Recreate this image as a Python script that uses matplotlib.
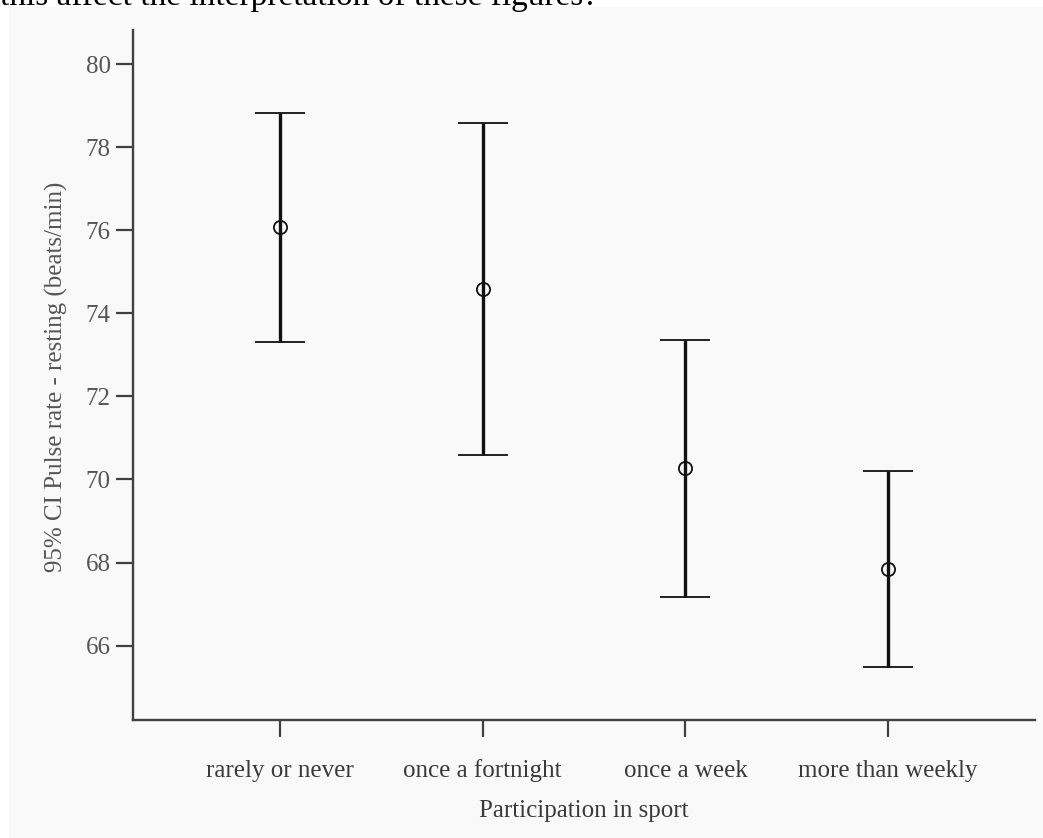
import matplotlib
matplotlib.use("Agg")
import matplotlib.pyplot as plt
from matplotlib.patches import Rectangle

categories = ["rarely or never", "once a fortnight", "once a week", "more than weekly"]
means = [76.07, 74.58, 70.28, 67.85]
upper = [78.81, 78.57, 73.36, 70.20]
lower = [73.32, 70.59, 67.17, 65.49]
yticks = [66, 68, 70, 72, 74, 76, 78, 80]

W, H = 1043, 838
fig = plt.figure(figsize=(W / 100, H / 100), dpi=100)
fig.patch.set_facecolor("#f9f9f9")

# white page strips of the screenshot (top and left)
fig.patches.append(Rectangle((-0.01, 1 - 7 / H), 1.02, 0.02, transform=fig.transFigure,
                             facecolor="white", edgecolor="none", zorder=-10))
fig.patches.append(Rectangle((-0.01, -0.01), 0.01 + 9 / W, 1.02, transform=fig.transFigure,
                             facecolor="white", edgecolor="none", zorder=-10))

serif = ["Liberation Serif", "DejaVu Serif"]
fig.text(0.0, 1 - 5 / H, "this affect the interpretation of these figures?",
         family=serif, fontsize=24, color="black", va="baseline", ha="left")

left, right, top, bottom = 133, 1035, 30, 720
ax = fig.add_axes([left / W, 1 - bottom / H, (right - left) / W, (bottom - top) / H])
ax.set_facecolor("none")

x = list(range(len(categories)))
yerr = [[m - l for m, l in zip(means, lower)], [u - m for m, u in zip(means, upper)]]
ax.errorbar(x, means, yerr=yerr, fmt="o", mfc="none", mec="#111111", ms=9.5, mew=1.3,
            ecolor="#111111", elinewidth=2.4, capsize=18, capthick=2.6, color="#111111")

ax.set_xlim(-0.724, 3.724)
ax.set_ylim(64.21, 80.82)
ax.set_xticks(x)
ax.set_xticklabels(categories, family=serif, fontsize=18, color="#3a3a3a", va="baseline")
ax.set_yticks(yticks)
ax.set_yticklabels([str(v) for v in yticks], family=serif, fontsize=18, color="#555555")

for s in ["top", "right"]:
    ax.spines[s].set_visible(False)
for s in ["left", "bottom"]:
    ax.spines[s].set_color("#404040")
    ax.spines[s].set_linewidth(1.7)

ax.tick_params(axis="x", length=12, width=1.6, color="#404040", pad=29)
ax.tick_params(axis="y", length=12, width=1.6, color="#404040", pad=4)

ax.set_xlabel("Participation in sport", family=serif, fontsize=18, color="#3a3a3a", labelpad=13)
fig.text(56 / W, 1 - 377 / H, "95% CI Pulse rate - resting (beats/min)", family=serif,
         fontsize=18, color="#555555", rotation=90, ha="center", va="center")

fig.savefig("out.png", dpi=100, facecolor=fig.get_facecolor())
